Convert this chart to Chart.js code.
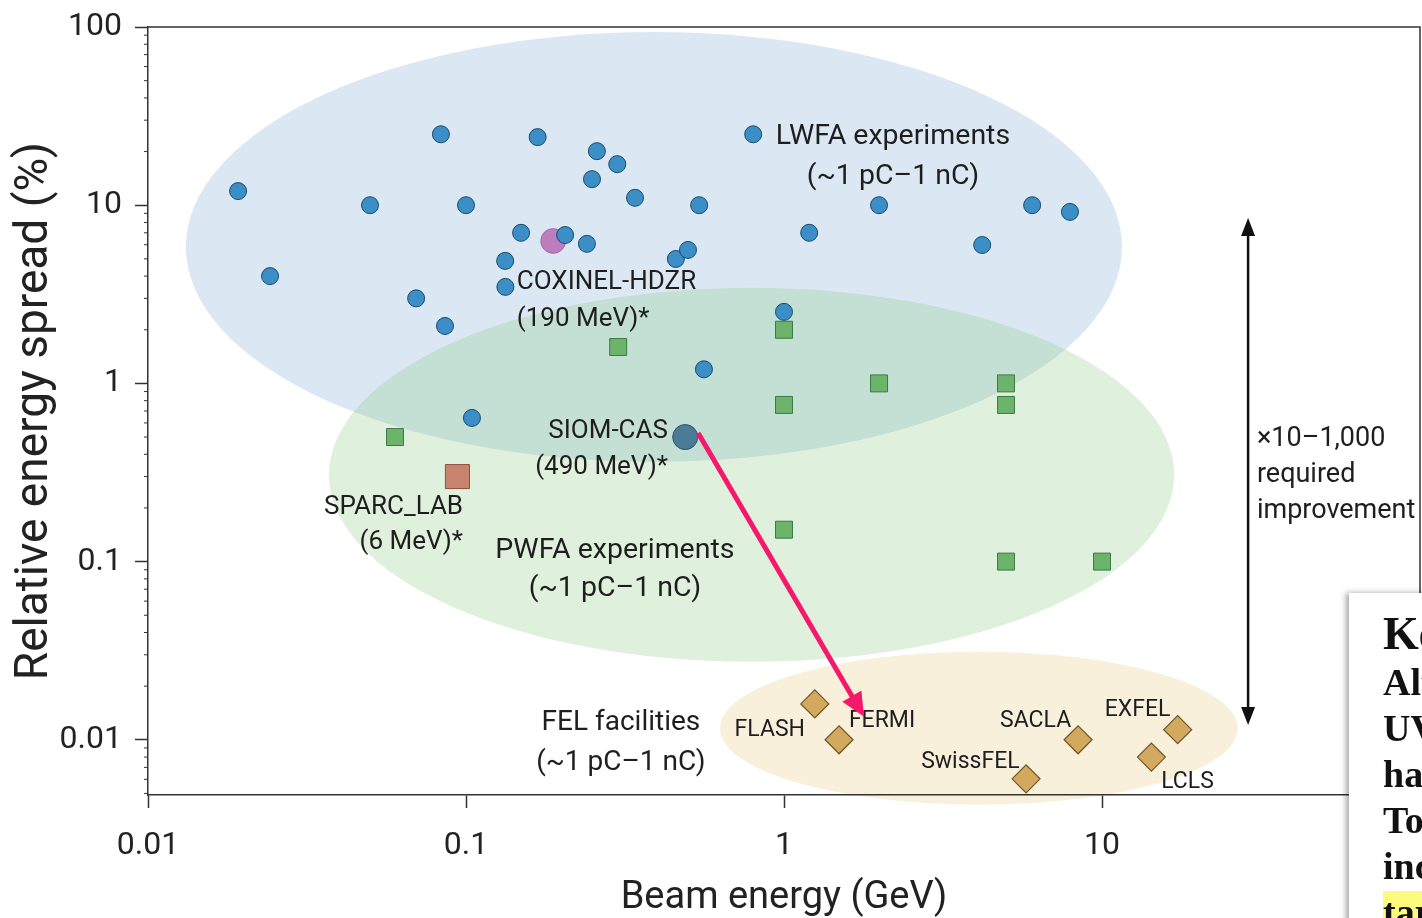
<!DOCTYPE html>
<html>
<head>
<meta charset="utf-8">
<script src="https://cdn.jsdelivr.net/npm/chart.js@4.4.0/dist/chart.umd.min.js"></script>
<style>
html,body{margin:0;padding:0;background:#fff;}
#wrap{position:relative;width:1422px;height:918px;overflow:hidden;background:#fff;}
canvas{display:block;}
#note{position:absolute;left:1349px;top:593px;width:90px;height:340px;background:#fff;
  box-shadow:-3px 0 6px rgba(0,0,0,0.35);overflow:hidden;box-sizing:border-box;padding:16px 0 0 34px;
  font-family:"Liberation Serif","Times New Roman",serif;font-weight:bold;color:#111;white-space:nowrap;}
#note .h{font-size:46px;line-height:50px;}
#note .b{font-size:38px;line-height:46px;}
#note .hl{background:#fdfb7e;}
</style>
</head>
<body>
<div id="wrap">
<canvas id="c" width="1422" height="918"></canvas>
<div id="note"><div class="h">Key points</div><div class="b">Although</div><div class="b">UV</div><div class="b">have</div><div class="b">To</div><div class="b">increase</div><div class="b"><span class="hl">target</span></div></div>
</div>
<script>
// ---------- data ----------
const xTitle = 'Beam energy (GeV)';
const yTitle = 'Relative energy spread (%)';
const xTicks = [0.01, 0.1, 1, 10];
const yMajorTicks = [0.01, 0.1, 1, 10, 100];
const xRange = [0.01, 100];
const yRange = [0.0049, 100];

// LWFA experiments (blue circles)
const lwfaEnergy = [0.0192,0.0242,0.0499,0.0697,0.0834,0.0859,0.1,0.1044,0.1328,0.133,0.149,0.168,0.205,0.240,0.249,0.258,0.299,0.340,0.457,0.499,0.541,0.560,0.80,1.0,1.20,1.99,4.20,6.03,7.93];
const lwfaSpread = [12.0,4.0,10,3.0,25,2.1,10,0.64,4.87,3.48,7.0,24.1,6.8,6.07,14.0,20.1,17.0,11.0,4.99,5.61,10,1.2,25,2.52,7.0,10,5.98,10,9.17];

// PWFA experiments (green squares)
const pwfaEnergy = [0.0598,0.301,1,1,1,1.99,4.99,4.99,4.99,10];
const pwfaSpread = [0.50,1.60,2.0,0.757,0.151,1.0,1.0,0.757,0.1,0.1];

// FEL facilities (diamonds)
const felNames  = ['FLASH','FERMI','SwissFEL','SACLA','LCLS','EXFEL'];
const felEnergy = [1.25,1.49,5.77,8.41,14.3,17.3];
const felSpread = [0.0159,0.0100,0.00604,0.0100,0.0080,0.0114];

// highlighted single results
const coxinelPoint = [0.188, 6.3];
const siomPoint    = [0.489, 0.50];
const sparcPoint   = [0.094, 0.30];

// shaded regions: centre (x, y) and half-widths in decades
const regionNames = ['FEL','LWFA','PWFA'];
const regionCx  = [4.10, 0.390, 0.791];
const regionCy  = [0.01161, 5.83, 0.307];
const regionRx  = [0.814, 1.472, 1.329];
const regionRy  = [0.429, 1.206, 1.049];
const regionFill = ['#f8f0da', '#dbe8f4', 'rgba(130,196,119,0.26)'];

// annotations
const annText  = [['LWFA experiments','(~1 pC\u20131 nC)'], ['COXINEL-HDZR','(190 MeV)*'], ['SIOM-CAS','(490 MeV)*'],
                  ['SPARC_LAB','(6 MeV)*'], ['PWFA experiments','(~1 pC\u20131 nC)'], ['FEL facilities','(~1 pC\u20131 nC)'],
                  ['FLASH'], ['FERMI'], ['SACLA'], ['SwissFEL'], ['EXFEL'], ['LCLS'],
                  ['\u00d710\u20131,000','required','improvement']];
const annX     = [2.20, 0.1445, 0.4315, 0.0979, 0.294, 0.307, 1.164, 1.60, 4.78, 2.70, 10.2, 15.35, 30.7];
const annY     = [25.1, 3.81, 0.556, 0.208, 0.1194, 0.01294, 0.01183, 0.01327, 0.01327, 0.00782, 0.01514, 0.00604, 0.507];
const annAlign = ['center','left','right','right','center','center','right','left','left','left','left','left','left'];
const annSize  = [28.5, 26, 26, 26, 28.5, 28, 23, 23, 23, 23, 23, 23, 27];
const annGap   = [40, 37, 36, 35, 38, 40, 0, 0, 0, 0, 0, 0, 36];

// arrows
const gapArrowFrom = [0.537, 0.527];
const gapArrowTo   = [1.785, 0.01345];
const improveArrowX = 28.8;
const improveArrowY = [8.48, 0.0121];

// ---------- helpers ----------
const pts = (xs, ys) => xs.map((x, i) => ({x: x, y: ys[i]}));
const FONT = 'Roboto, "Noto Sans", sans-serif';
const TEXT_NUDGE = 3;
const isMajorY = v => yMajorTicks.some(m => Math.abs(v - m) / m < 1e-6);
const yTickValues = [];
for (let e = -3; e <= 2; e++) {
  for (let k = 1; k <= 9; k++) {
    const v = +(k * Math.pow(10, e)).toPrecision(6);
    if (v >= yRange[0] - 1e-12 && v <= yRange[1] + 1e-9) yTickValues.push(v);
  }
}
const noPad = s => { s.paddingTop = 0; s.paddingBottom = 0; s.paddingLeft = 0; s.paddingRight = 0; };

function arrowHead(ctx, x1, y1, x2, y2, len, half) {
  const a = Math.atan2(y2 - y1, x2 - x1);
  ctx.beginPath();
  ctx.moveTo(x2, y2);
  ctx.lineTo(x2 - len * Math.cos(a) + half * Math.sin(a), y2 - len * Math.sin(a) - half * Math.cos(a));
  ctx.lineTo(x2 - len * Math.cos(a) - half * Math.sin(a), y2 - len * Math.sin(a) + half * Math.cos(a));
  ctx.closePath();
  ctx.fill();
}

const overlay = {
  id: 'overlay',
  beforeDraw(chart) {
    const {ctx, scales: {x, y}} = chart;
    ctx.save();
    for (let i = 0; i < regionCx.length; i++) {
      const cx = x.getPixelForValue(regionCx[i]);
      const cy = y.getPixelForValue(regionCy[i]);
      const rx = x.getPixelForValue(regionCx[i] * Math.pow(10, regionRx[i])) - cx;
      const ry = cy - y.getPixelForValue(regionCy[i] * Math.pow(10, regionRy[i]));
      ctx.beginPath();
      ctx.ellipse(cx, cy, rx, ry, 0, 0, Math.PI * 2);
      ctx.fillStyle = regionFill[i];
      ctx.fill();
    }
    ctx.restore();
  },
  afterDatasetsDraw(chart) {
    const {ctx, chartArea: ca, scales: {x, y}} = chart;
    ctx.save();
    // frame: top and right
    ctx.strokeStyle = '#333';
    ctx.lineWidth = 1.5;
    ctx.beginPath();
    ctx.moveTo(ca.left, ca.top); ctx.lineTo(ca.right, ca.top); ctx.lineTo(ca.right, ca.bottom);
    ctx.stroke();
    // minor ticks on y
    ctx.lineWidth = 1;
    y.ticks.forEach(t => {
      if (isMajorY(t.value)) return;
      const py = y.getPixelForValue(t.value);
      ctx.beginPath(); ctx.moveTo(ca.left - 4, py); ctx.lineTo(ca.left, py); ctx.stroke();
    });
    // labels
    ctx.fillStyle = '#1e1e1e';
    ctx.textBaseline = 'middle';
    for (let i = 0; i < annText.length; i++) {
      const px = x.getPixelForValue(annX[i]);
      const py = y.getPixelForValue(annY[i]) + TEXT_NUDGE;
      ctx.font = annSize[i] + 'px ' + FONT;
      ctx.textAlign = annAlign[i];
      annText[i].forEach((line, j) => ctx.fillText(line, px, py + j * annGap[i]));
    }
    // improvement double arrow
    const ax = x.getPixelForValue(improveArrowX);
    const ay1 = y.getPixelForValue(improveArrowY[0]);
    const ay2 = y.getPixelForValue(improveArrowY[1]);
    ctx.strokeStyle = '#111'; ctx.fillStyle = '#111'; ctx.lineWidth = 2.5;
    ctx.beginPath(); ctx.moveTo(ax, ay1 + 14); ctx.lineTo(ax, ay2 - 14); ctx.stroke();
    arrowHead(ctx, ax, ay2, ax, ay1, 18, 7);
    arrowHead(ctx, ax, ay1, ax, ay2, 18, 7);
    // pink arrow
    const p1x = x.getPixelForValue(gapArrowFrom[0]), p1y = y.getPixelForValue(gapArrowFrom[1]);
    const p2x = x.getPixelForValue(gapArrowTo[0]),   p2y = y.getPixelForValue(gapArrowTo[1]);
    const a = Math.atan2(p2y - p1y, p2x - p1x);
    ctx.strokeStyle = '#f5186b'; ctx.fillStyle = '#f5186b'; ctx.lineWidth = 5;
    ctx.beginPath(); ctx.moveTo(p1x, p1y); ctx.lineTo(p2x - 18 * Math.cos(a), p2y - 18 * Math.sin(a)); ctx.stroke();
    arrowHead(ctx, p1x, p1y, p2x, p2y, 24, 11);
    ctx.restore();
  }
};

new Chart(document.getElementById('c'), {
  type: 'scatter',
  data: {
    datasets: [
      { label: 'LWFA experiments', data: pts(lwfaEnergy, lwfaSpread), pointStyle: 'circle', pointRadius: 8.5,
        backgroundColor: '#3b8ec6', borderColor: '#1c4a6a', borderWidth: 1 },
      { label: 'SIOM-CAS', data: [{x: siomPoint[0], y: siomPoint[1]}], pointStyle: 'circle', pointRadius: 12.5,
        backgroundColor: '#4c7b97', borderColor: '#2f5168', borderWidth: 1 },
      { label: 'COXINEL-HDZR', data: [{x: coxinelPoint[0], y: coxinelPoint[1]}], pointStyle: 'circle', pointRadius: 12.5,
        backgroundColor: 'rgba(184,106,178,0.85)', borderColor: 'rgba(130,70,130,0.5)', borderWidth: 1 },
      { label: 'SPARC_LAB', data: [{x: sparcPoint[0], y: sparcPoint[1]}], pointStyle: 'rect', pointRadius: 17,
        backgroundColor: '#c8846f', borderColor: '#8e4f40', borderWidth: 1 },
      { label: 'PWFA experiments', data: pts(pwfaEnergy, pwfaSpread), pointStyle: 'rect', pointRadius: 12,
        backgroundColor: '#6cb36c', borderColor: '#3d7a46', borderWidth: 1 },
      { label: 'FEL facilities', data: pts(felEnergy, felSpread), pointStyle: 'rectRot', pointRadius: 14,
        backgroundColor: '#d2a95e', borderColor: '#6e5627', borderWidth: 1.2 }
    ]
  },
  options: {
    responsive: false,
    animation: false,
    events: [],
    layout: { autoPadding: false, padding: { top: 27, right: 2, left: 0, bottom: 0 } },
    plugins: { legend: { display: false }, tooltip: { enabled: false } },
    scales: {
      x: {
        type: 'logarithmic', min: xRange[0], max: xRange[1],
        afterBuildTicks: s => { s.ticks = xTicks.map(v => ({value: v})); },
        afterFit: s => { s.height = 123; noPad(s); },
        ticks: { callback: v => String(v), font: {family: FONT, size: 32}, color: '#222', padding: 19, autoSkip: false, maxRotation: 0 },
        grid: { drawOnChartArea: false, drawTicks: true, tickLength: 13, tickColor: '#333', tickWidth: 1.5 },
        border: { display: true, color: '#333', width: 1.5 },
        title: { display: true, text: xTitle, font: {family: FONT, size: 38, lineHeight: 1}, color: '#222', padding: {top: 0, bottom: 1} }
      },
      y: {
        type: 'logarithmic', min: yRange[0], max: yRange[1],
        afterBuildTicks: s => { s.ticks = yTickValues.map(v => ({value: v, major: isMajorY(v)})); },
        afterFit: s => { s.width = 148; noPad(s); },
        ticks: { callback: v => isMajorY(v) ? String(v) : '', font: {family: FONT, size: 32}, color: '#222', padding: 13, autoSkip: false },
        grid: { drawOnChartArea: false, drawTicks: true, tickLength: 13,
                tickColor: c => (c.tick && isMajorY(c.tick.value)) ? '#333' : 'rgba(0,0,0,0)',
                tickWidth: c => (c.tick && isMajorY(c.tick.value)) ? 1.5 : 0 },
        border: { display: true, color: '#333', width: 1.5 },
        title: { display: true, text: yTitle, font: {family: FONT, size: 46, lineHeight: 1}, color: '#222', padding: {top: 12, bottom: 0} }
      }
    }
  },
  plugins: [overlay]
});
</script>
</body>
</html>
